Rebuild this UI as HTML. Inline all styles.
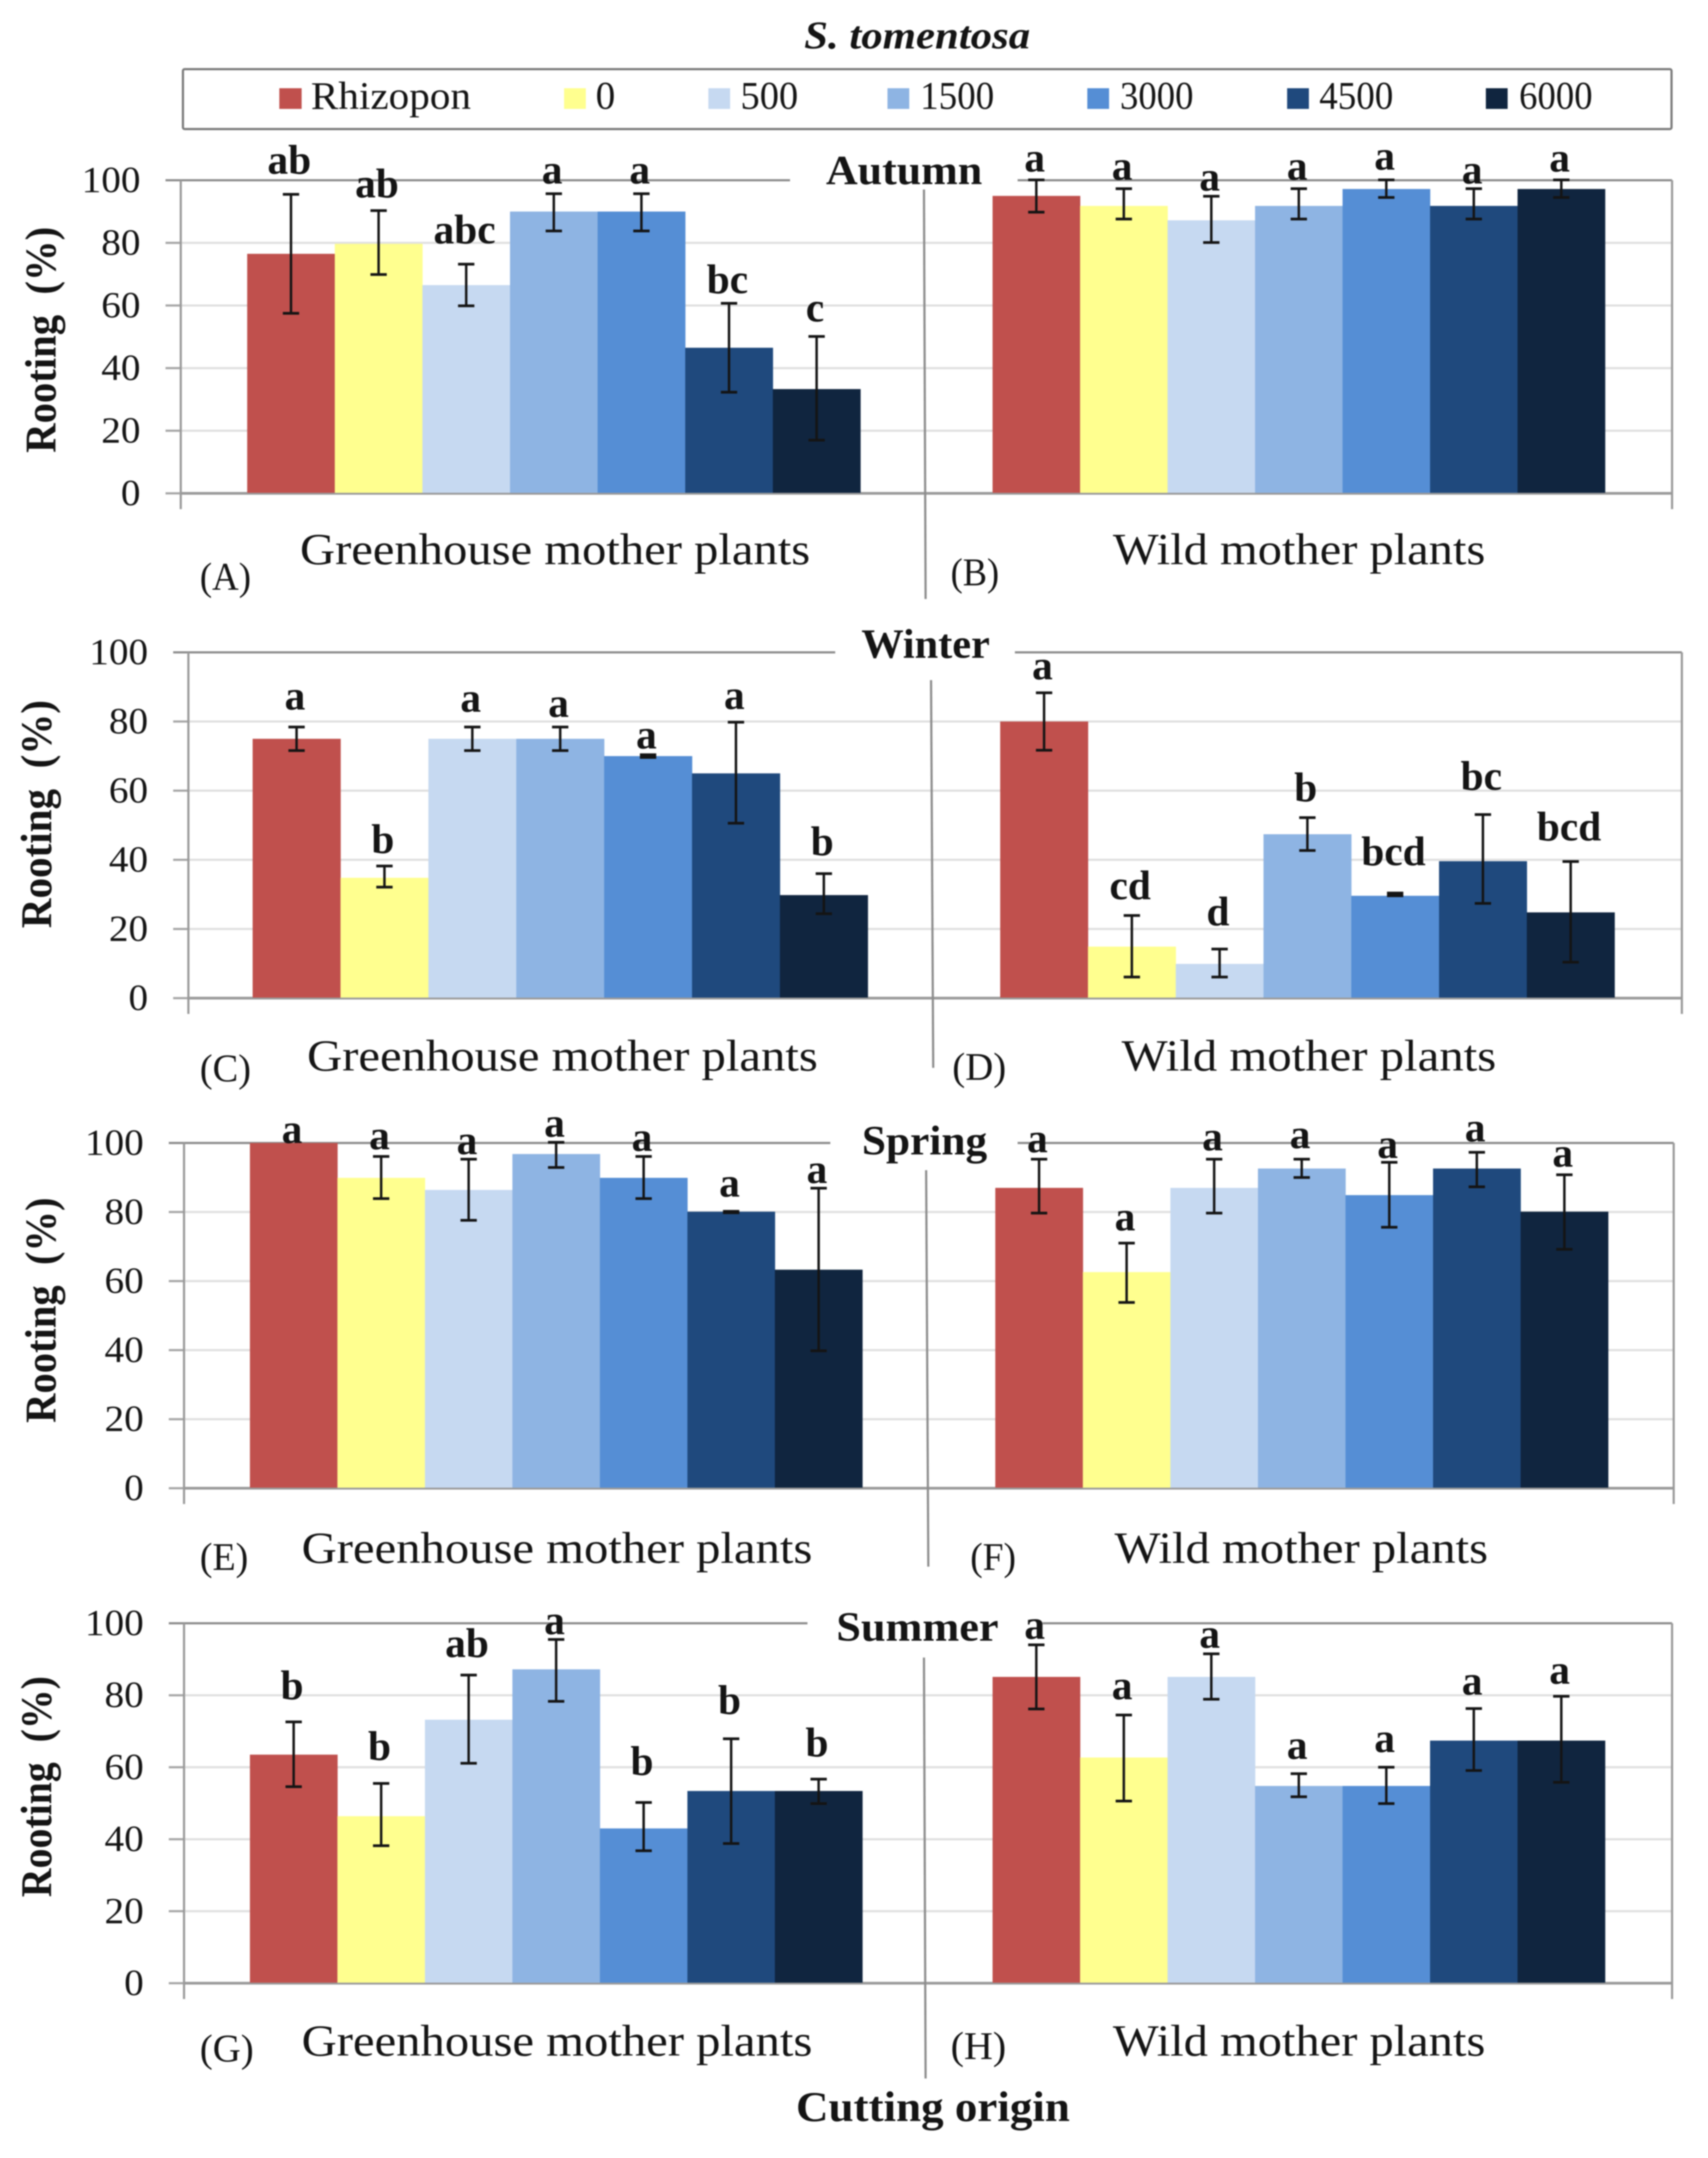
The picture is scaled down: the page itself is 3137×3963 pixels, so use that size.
<!DOCTYPE html>
<html lang="en">
<head>
<meta charset="utf-8">
<title>S. tomentosa rooting by season and cutting origin</title>
<style>
html,body{margin:0;padding:0;background:#fff;}
svg{display:block;filter:blur(1.3px);}
text{font-family:"Liberation Serif",serif;fill:#141414;}
.b{font-weight:bold;}
.sub{font-size:82px;}
.tag{font-size:72px;}
.leg{font-size:72px;}
.sea{font-size:76px;font-weight:bold;}
.yt{font-size:80px;font-weight:bold;white-space:pre;}
</style>
</head>
<body>
<svg id="chart" xmlns="http://www.w3.org/2000/svg" width="3137" height="3963" viewBox="0 0 3137 3963">
  <rect width="3137" height="3963" fill="#ffffff"/>
  <g id="plots"></g>

  <text x="1477" y="89" font-size="72" class="b" font-style="italic" textLength="415" lengthAdjust="spacingAndGlyphs">S. tomentosa</text>

  <g>
    <rect x="336" y="127" width="2734" height="110" rx="3" fill="none" stroke="#7a7a7a" stroke-width="4"/>
    <rect x="513" y="162" width="41" height="38" fill="#C0504D"/>
    <text class="leg" x="571" y="200" textLength="294" lengthAdjust="spacingAndGlyphs">Rhizopon</text>
    <rect x="1036" y="162" width="40" height="38" fill="#FFFF8F"/>
    <text class="leg" x="1094" y="200" textLength="36" lengthAdjust="spacingAndGlyphs">0</text>
    <rect x="1301" y="162" width="40" height="38" fill="#C6D9F1"/>
    <text class="leg" x="1360" y="200" textLength="106" lengthAdjust="spacingAndGlyphs">500</text>
    <rect x="1630" y="162" width="40" height="38" fill="#8EB4E3"/>
    <text class="leg" x="1690" y="200" textLength="136" lengthAdjust="spacingAndGlyphs">1500</text>
    <rect x="1997" y="162" width="40" height="38" fill="#558ED5"/>
    <text class="leg" x="2057" y="200" textLength="135" lengthAdjust="spacingAndGlyphs">3000</text>
    <rect x="2364" y="162" width="40" height="38" fill="#1F497D"/>
    <text class="leg" x="2423" y="200" textLength="136" lengthAdjust="spacingAndGlyphs">4500</text>
    <rect x="2729" y="162" width="40" height="38" fill="#10253F"/>
    <text class="leg" x="2790" y="200" textLength="135" lengthAdjust="spacingAndGlyphs">6000</text>
  </g>

  <text class="sea" x="1517" y="338" textLength="287" lengthAdjust="spacingAndGlyphs">Autumn</text>
  <text class="sea" x="1582" y="1208" textLength="236" lengthAdjust="spacingAndGlyphs">Winter</text>
  <text class="sea" x="1583" y="2120" textLength="230" lengthAdjust="spacingAndGlyphs">Spring</text>
  <text class="sea" x="1536" y="3013" textLength="298" lengthAdjust="spacingAndGlyphs">Summer</text>

  <text class="yt" transform="translate(102,624) rotate(-90)" text-anchor="middle" textLength="415" lengthAdjust="spacingAndGlyphs">Rooting  (%)</text>
  <text class="yt" transform="translate(94,1495) rotate(-90)" text-anchor="middle" textLength="419" lengthAdjust="spacingAndGlyphs">Rooting  (%)</text>
  <text class="yt" transform="translate(102,2406) rotate(-90)" text-anchor="middle" textLength="414" lengthAdjust="spacingAndGlyphs">Rooting  (%)</text>
  <text class="yt" transform="translate(94,3281) rotate(-90)" text-anchor="middle" textLength="406" lengthAdjust="spacingAndGlyphs">Rooting  (%)</text>

  <text class="sub" x="551" y="1036" textLength="937" lengthAdjust="spacingAndGlyphs">Greenhouse mother plants</text>
  <text class="sub" x="2044" y="1036" textLength="684" lengthAdjust="spacingAndGlyphs">Wild mother plants</text>
  <text class="sub" x="564" y="1966" textLength="938" lengthAdjust="spacingAndGlyphs">Greenhouse mother plants</text>
  <text class="sub" x="2060" y="1966" textLength="688" lengthAdjust="spacingAndGlyphs">Wild mother plants</text>
  <text class="sub" x="554" y="2870" textLength="938" lengthAdjust="spacingAndGlyphs">Greenhouse mother plants</text>
  <text class="sub" x="2047" y="2870" textLength="686" lengthAdjust="spacingAndGlyphs">Wild mother plants</text>
  <text class="sub" x="554" y="3775" textLength="938" lengthAdjust="spacingAndGlyphs">Greenhouse mother plants</text>
  <text class="sub" x="2044" y="3775" textLength="684" lengthAdjust="spacingAndGlyphs">Wild mother plants</text>

  <text class="tag" x="367" y="1083" textLength="94" lengthAdjust="spacingAndGlyphs">(A)</text>
  <text class="tag" x="1746" y="1075" textLength="89" lengthAdjust="spacingAndGlyphs">(B)</text>
  <text class="tag" x="367" y="1986" textLength="94" lengthAdjust="spacingAndGlyphs">(C)</text>
  <text class="tag" x="1749" y="1983" textLength="99" lengthAdjust="spacingAndGlyphs">(D)</text>
  <text class="tag" x="367" y="2883" textLength="89" lengthAdjust="spacingAndGlyphs">(E)</text>
  <text class="tag" x="1782" y="2883" textLength="84" lengthAdjust="spacingAndGlyphs">(F)</text>
  <text class="tag" x="367" y="3786" textLength="99" lengthAdjust="spacingAndGlyphs">(G)</text>
  <text class="tag" x="1746" y="3781" textLength="102" lengthAdjust="spacingAndGlyphs">(H)</text>

  <text class="b" x="1462" y="3895" font-size="78" textLength="503" lengthAdjust="spacingAndGlyphs">Cutting origin</text>
</svg>

<script>
// ---- data (all in % rooting) ----
const categories = ['Rhizopon', '0', '500', '1500', '3000', '4500', '6000'];
const tickValues = [0, 20, 40, 60, 80, 100];
const tickLabels = ['0', '20', '40', '60', '80', '100'];

const autumnGreenhouseValues = [76.5, 79.7, 66.5, 90, 90, 46.5, 33.3];
const autumnGreenhouseErrHigh = [95.5, 90.3, 73.2, 95.7, 95.7, 60.7, 50.1];
const autumnGreenhouseErrLow = [57.5, 69.9, 59.9, 83.8, 83.8, 32.3, 17];
const autumnGreenhouseLetters = ['ab', 'ab', 'abc', 'a', 'a', 'bc', 'c'];
const autumnGreenhouseLetterLift = [6.6, 4.2, 6.6, 3.3, 3.3, 3.2, 4.8];

const autumnWildValues = [95, 91.8, 87.2, 91.8, 97.2, 91.8, 97.2];
const autumnWildErrHigh = [100.1, 97.3, 94.9, 97.3, 100.1, 97.3, 100.1];
const autumnWildErrLow = [89.8, 87.6, 80.1, 87.6, 94.5, 87.6, 94.5];
const autumnWildLetters = ['a', 'a', 'a', 'a', 'a', 'a', 'a'];
const autumnWildLetterLift = [2.7, 2.9, 1.8, 2.9, 3.3, 1.7, 2.7];

const winterGreenhouseValues = [75, 34.8, 75, 75, 70, 65, 29.8];
const winterGreenhouseErrHigh = [78.4, 38.2, 78.4, 78.4, 70.4, 79.8, 36];
const winterGreenhouseErrLow = [71.6, 32.1, 71.6, 71.6, 69.6, 50.6, 24.4];
const winterGreenhouseLetters = ['a', 'b', 'a', 'a', 'a', 'a', 'b'];
const winterGreenhouseLetterLift = [5.1, 3.8, 4.4, 2.9, 1.8, 3.8, 5.3];

const winterWildValues = [80, 14.9, 9.9, 47.4, 29.6, 39.6, 24.8];
const winterWildErrHigh = [88.3, 23.9, 14.2, 52.2, 30.4, 53.1, 39.5];
const winterWildErrLow = [71.7, 6.1, 6.1, 42.7, 29.6, 27.4, 10.4];
const winterWildLetters = ['a', 'cd', 'd', 'b', 'bcd', 'bc', 'bcd'];
const winterWildLetterLift = [3.9, 4.7, 6.8, 4.7, 8, 7.1, 6.1];

const springGreenhouseValues = [100, 89.9, 86.4, 96.8, 89.9, 80.1, 63.3];
const springGreenhouseErrHigh = [100, 96.1, 95.3, 100.2, 96.1, 80.2, 86.9];
const springGreenhouseErrLow = [100, 83.9, 77.6, 92.9, 83.9, 79.8, 39.8];
const springGreenhouseLetters = ['a', 'a', 'a', 'a', 'a', 'a', 'a'];
const springGreenhouseLetterLift = [0, 2.1, 1.5, 1.6, 1.6, 4.3, 1.5];

const springWildValues = [87, 62.6, 87, 92.6, 84.9, 92.6, 80.1];
const springWildErrHigh = [95.3, 71, 95.3, 95.3, 94.4, 97.3, 90.8];
const springWildErrLow = [79.7, 53.8, 79.7, 90, 75.6, 87.3, 69.2];
const springWildLetters = ['a', 'a', 'a', 'a', 'a', 'a', 'a'];
const springWildLetterLift = [2, 3.7, 2.6, 3.2, 1.3, 3.2, 2.3];

const summerGreenhouseValues = [63.5, 46.4, 73.2, 87.2, 43, 53.4, 53.4];
const summerGreenhouseErrHigh = [72.6, 55.5, 85.6, 95.5, 50.2, 67.9, 56.7];
const summerGreenhouseErrLow = [54.6, 38.2, 61.1, 78.3, 36.8, 38.8, 49.9];
const summerGreenhouseLetters = ['b', 'b', 'ab', 'a', 'b', 'b', 'b'];
const summerGreenhouseLetterLift = [6.3, 6.5, 5, 1.5, 7.7, 6.9, 6.3];

const summerWildValues = [85.1, 62.7, 85.1, 54.8, 54.8, 67.4, 67.4];
const summerWildErrHigh = [94, 74.5, 91.5, 58.2, 60, 76.3, 79.7];
const summerWildErrLow = [76.2, 50.6, 78.9, 51.8, 49.9, 59.1, 55.8];
const summerWildLetters = ['a', 'a', 'a', 'a', 'a', 'a', 'a'];
const summerWildLetterLift = [1.7, 4.4, 1.7, 4.1, 4.2, 3.9, 3.5];

const seriesColors = { 'Rhizopon': '#C0504D', '0': '#FFFF8F', '500': '#C6D9F1', '1500': '#8EB4E3', '3000': '#558ED5', '4500': '#1F497D', '6000': '#10253F' };

// ---- layout ----
const rows = [
  { name: 'autumn', top: 331, bottom: 906, axis: 332, right: 3071, topEnd: 1451, topStart: 1869, sep: [1697, 348, 1700, 1100] },
  { name: 'winter', top: 1198, bottom: 1833, axis: 346, right: 3089, topEnd: 1534, topStart: 1864, sep: [1710, 1249, 1714, 1961] },
  { name: 'spring', top: 2099, bottom: 2733, axis: 338, right: 3074, topEnd: 1525, topStart: 1869, sep: [1701, 2149, 1705, 2877] },
  { name: 'summer', top: 2981, bottom: 3642, axis: 338, right: 3071, topEnd: 1483, topStart: 1915, sep: [1697, 3044, 1700, 3817] }
];
const panels = [
  { id: 'a', row: 0, left: 454, step: 160.9, values: autumnGreenhouseValues, hi: autumnGreenhouseErrHigh, lo: autumnGreenhouseErrLow, letters: autumnGreenhouseLetters, lift: autumnGreenhouseLetterLift },
  { id: 'b', row: 0, left: 1823, step: 160.7, values: autumnWildValues, hi: autumnWildErrHigh, lo: autumnWildErrLow, letters: autumnWildLetters, lift: autumnWildLetterLift },
  { id: 'c', row: 1, left: 464, step: 161.4, values: winterGreenhouseValues, hi: winterGreenhouseErrHigh, lo: winterGreenhouseErrLow, letters: winterGreenhouseLetters, lift: winterGreenhouseLetterLift },
  { id: 'd', row: 1, left: 1837, step: 161.2, values: winterWildValues, hi: winterWildErrHigh, lo: winterWildErrLow, letters: winterWildLetters, lift: winterWildLetterLift },
  { id: 'e', row: 2, left: 459, step: 160.7, values: springGreenhouseValues, hi: springGreenhouseErrHigh, lo: springGreenhouseErrLow, letters: springGreenhouseLetters, lift: springGreenhouseLetterLift },
  { id: 'f', row: 2, left: 1828, step: 160.8, values: springWildValues, hi: springWildErrHigh, lo: springWildErrLow, letters: springWildLetters, lift: springWildLetterLift },
  { id: 'g', row: 3, left: 459, step: 160.7, values: summerGreenhouseValues, hi: summerGreenhouseErrHigh, lo: summerGreenhouseErrLow, letters: summerGreenhouseLetters, lift: summerGreenhouseLetterLift },
  { id: 'h', row: 3, left: 1823, step: 160.7, values: summerWildValues, hi: summerWildErrHigh, lo: summerWildErrLow, letters: summerWildLetters, lift: summerWildLetterLift }
];

const NS = 'http://www.w3.org/2000/svg';
const root = document.getElementById('plots');

function make(tag, attrs) {
  const node = document.createElementNS(NS, tag);
  Object.keys(attrs).forEach(function (k) { node.setAttribute(k, attrs[k]); });
  root.appendChild(node);
  return node;
}
function yScale(row, v) { return row.bottom - (v / 100) * (row.bottom - row.top); }
function xScale(panel, i) { return panel.left + i * panel.step; }

function drawRow(row) {
  tickValues.forEach(function (v, i) {
    const y = yScale(row, v);
    const isEdge = v === 0 || v === 100;
    if (!isEdge) {
      const grid = make('line', { x1: row.axis, x2: row.right, y1: y, y2: y, stroke: '#e0e0e0', 'stroke-width': 4 });
      
      
    }
    const tick = make('line', { x1: row.axis - 28, x2: row.axis, y1: y, y2: y, stroke: '#a6a6a6', 'stroke-width': 4 });
    
    
    const label = make('text', { x: row.axis - 74, y: y + 22, 'font-size': 68, 'text-anchor': 'end', textLength: tickLabels[i].length * 36, lengthAdjust: 'spacingAndGlyphs' });
    label.textContent = tickLabels[i];
    
    
  });
  const topLeft = make('line', { x1: row.axis - 28, x2: row.topEnd, y1: row.top, y2: row.top, stroke: '#8c8c8c', 'stroke-width': 4 });
  
  
  const topRight = make('line', { x1: row.topStart, x2: row.right, y1: row.top, y2: row.top, stroke: '#8c8c8c', 'stroke-width': 4 });
  
  
  const baseline = make('line', { x1: row.axis, x2: row.right, y1: row.bottom, y2: row.bottom, stroke: '#9a9a9a', 'stroke-width': 5 });
  
  
  const axisLine = make('line', { x1: row.axis, x2: row.axis, y1: row.top, y2: row.bottom + 29, stroke: '#9a9a9a', 'stroke-width': 4 });
  
  
  const rightLine = make('line', { x1: row.right, x2: row.right, y1: row.top, y2: row.bottom + 29, stroke: '#9a9a9a', 'stroke-width': 4 });
  
  
  const sep = make('line', { x1: row.sep[0], y1: row.sep[1], x2: row.sep[2], y2: row.sep[3], stroke: '#8c8c8c', 'stroke-width': 4 });
  
  
}

function drawPanel(panel) {
  const row = rows[panel.row];
  categories.forEach(function (cat, i) {
    const top = yScale(row, panel.values[i]);
    const bar = make('rect', { x: xScale(panel, i), y: top, width: panel.step + 0.4, height: row.bottom - top - 1, fill: seriesColors[cat] });
    
    
  });
  categories.forEach(function (cat, i) {
    const cx = xScale(panel, i) + panel.step / 2;
    const yHi = yScale(row, panel.hi[i]);
    const yLo = yScale(row, panel.lo[i]);
    if (panel.hi[i] > panel.lo[i]) {
      const stem = make('line', { x1: cx, x2: cx, y1: yHi, y2: yLo, stroke: '#141414', 'stroke-width': 4.5 });
      
      
      const capHi = make('line', { x1: cx - 15, x2: cx + 15, y1: yHi, y2: yHi, stroke: '#141414', 'stroke-width': 5 });
      
      
      const capLo = make('line', { x1: cx - 15, x2: cx + 15, y1: yLo, y2: yLo, stroke: '#141414', 'stroke-width': 5 });
      
      
    }
    const letter = make('text', { x: cx - 3, y: yScale(row, panel.hi[i] + panel.lift[i]), 'font-size': 76, 'font-weight': 'bold', 'text-anchor': 'middle' });
    letter.textContent = panel.letters[i];
    
    
  });
}

rows.forEach(drawRow);
panels.forEach(drawPanel);
</script>
</body>
</html>
